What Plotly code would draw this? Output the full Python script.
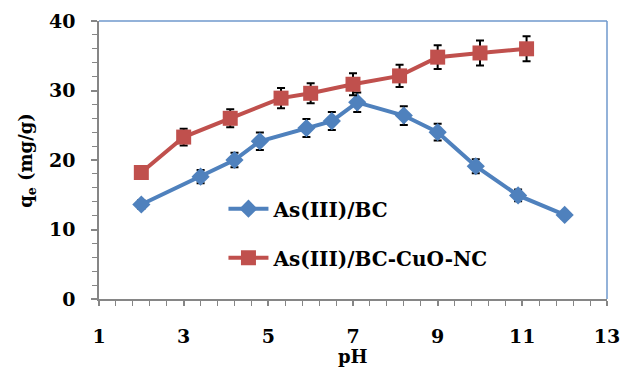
import plotly.graph_objects as go

# Data
ph_bc = [2.0, 3.4, 4.2, 4.8, 5.9, 6.5, 7.1, 8.2, 9.0, 9.9, 10.9, 12.0]
q_bc = [13.6, 17.6, 20.0, 22.7, 24.6, 25.6, 28.3, 26.4, 24.0, 19.1, 14.9, 12.1]
err_bc = [0.6, 0.95, 1.05, 1.25, 1.3, 1.3, 1.4, 1.35, 1.2, 1.0, 0.85, 0.5]

ph_cuo = [2.0, 3.0, 4.1, 5.3, 6.0, 7.0, 8.1, 9.0, 10.0, 11.1]
q_cuo = [18.2, 23.3, 26.0, 28.9, 29.6, 30.9, 32.1, 34.8, 35.4, 36.0]
err_cuo = [0.6, 1.2, 1.3, 1.45, 1.45, 1.6, 1.6, 1.7, 1.8, 1.8]

name_bc = "As(III)/BC"
name_cuo = "As(III)/BC-CuO-NC"

x_ticks = [1, 3, 5, 7, 9, 11, 13]
y_ticks = [0, 10, 20, 30, 40]

BLUE = "#4F81BD"
RED = "#C0504D"
AXIS = "#868686"
FONT = "DejaVu Serif"

fig = go.Figure()
fig.add_trace(go.Scatter(
    x=ph_bc, y=q_bc, name=name_bc, legendgroup="a", mode="lines+markers",
    line=dict(color=BLUE, width=4),
    marker=dict(symbol="diamond", size=14, color=BLUE),
    error_y=dict(type="data", array=err_bc, color="black", thickness=2, width=4),
))
fig.add_trace(go.Scatter(
    x=ph_cuo, y=q_cuo, name=name_cuo, legendgroup="b", mode="lines+markers",
    line=dict(color=RED, width=4),
    marker=dict(symbol="square", size=15, color=RED),
    error_y=dict(type="data", array=err_cuo, color="black", thickness=2, width=4),
))

tickfont = dict(family=FONT, size=19, color="black", weight="bold")

fig.update_layout(
    width=632, height=367,
    margin=dict(l=99, r=25, t=21, b=68, autoexpand=False),
    paper_bgcolor="white", plot_bgcolor="white",
    showlegend=True,
    legend=dict(x=0.245, y=0.395, xanchor="left", yanchor="top",
                font=dict(family=FONT, size=20, color="black", weight="bold"),
                tracegroupgap=20, itemwidth=40, bgcolor="rgba(0,0,0,0)"),
    xaxis=dict(range=[1, 13], tickvals=x_ticks, ticktext=[str(v) for v in x_ticks],
               automargin=False,
               showgrid=False, zeroline=False, showline=True, linecolor=AXIS, linewidth=1.5,
               ticks="outside", ticklen=5, tickcolor=AXIS, tickwidth=1.5,
               minor=dict(dtick=0.4, tick0=1, ticks="outside", ticklen=5, tickcolor=AXIS, tickwidth=1),
               tickfont=tickfont, ticklabelstandoff=14),
    yaxis=dict(range=[0, 40], tickvals=y_ticks, automargin=False,
               showgrid=False, zeroline=False, showline=True, linecolor=AXIS, linewidth=1.5,
               ticks="outside", ticklen=6, tickcolor=AXIS, tickwidth=1.5,
               minor=dict(dtick=2, ticks="outside", ticklen=5, tickcolor=AXIS, tickwidth=1),
               tickfont=tickfont, ticklabelstandoff=12),
    xaxis2=dict(range=[1, 13], overlaying="x", anchor="y", side="bottom", automargin=False,
                tickvals=x_ticks, showticklabels=False, showgrid=False, zeroline=False,
                ticks="inside", ticklen=5, tickcolor=AXIS, tickwidth=1.5),
    yaxis2=dict(range=[0, 40], overlaying="y", anchor="x", side="left", automargin=False,
                tickvals=y_ticks, showticklabels=False, showgrid=False, zeroline=False,
                ticks="inside", ticklen=6, tickcolor=AXIS, tickwidth=1.5),
    shapes=[
        dict(type="line", xref="paper", yref="paper", x0=0, x1=1, y0=1, y1=1,
             line=dict(color="#6F98CC", width=1.5)),
        dict(type="line", xref="paper", yref="paper", x0=1, x1=1, y0=0, y1=1,
             line=dict(color="#6F98CC", width=1.5)),
    ],
    annotations=[
        dict(text="pH", xref="paper", yref="paper", x=0.5, y=-0.206, yanchor="middle",
             showarrow=False, font=dict(family=FONT, size=18, color="black", weight="bold")),
        dict(text="q<sub>e</sub> (mg/g)", xref="paper", yref="paper", x=-0.142, y=0.5,
             xanchor="center", yanchor="middle", textangle=-90,
             showarrow=False, font=dict(family=FONT, size=18, color="black", weight="bold")),
    ],
)

fig.write_html(
    "out.html",
    config={"displayModeBar": False},
    post_script="document.body.style.margin='0';document.body.style.overflow='hidden';",
)
